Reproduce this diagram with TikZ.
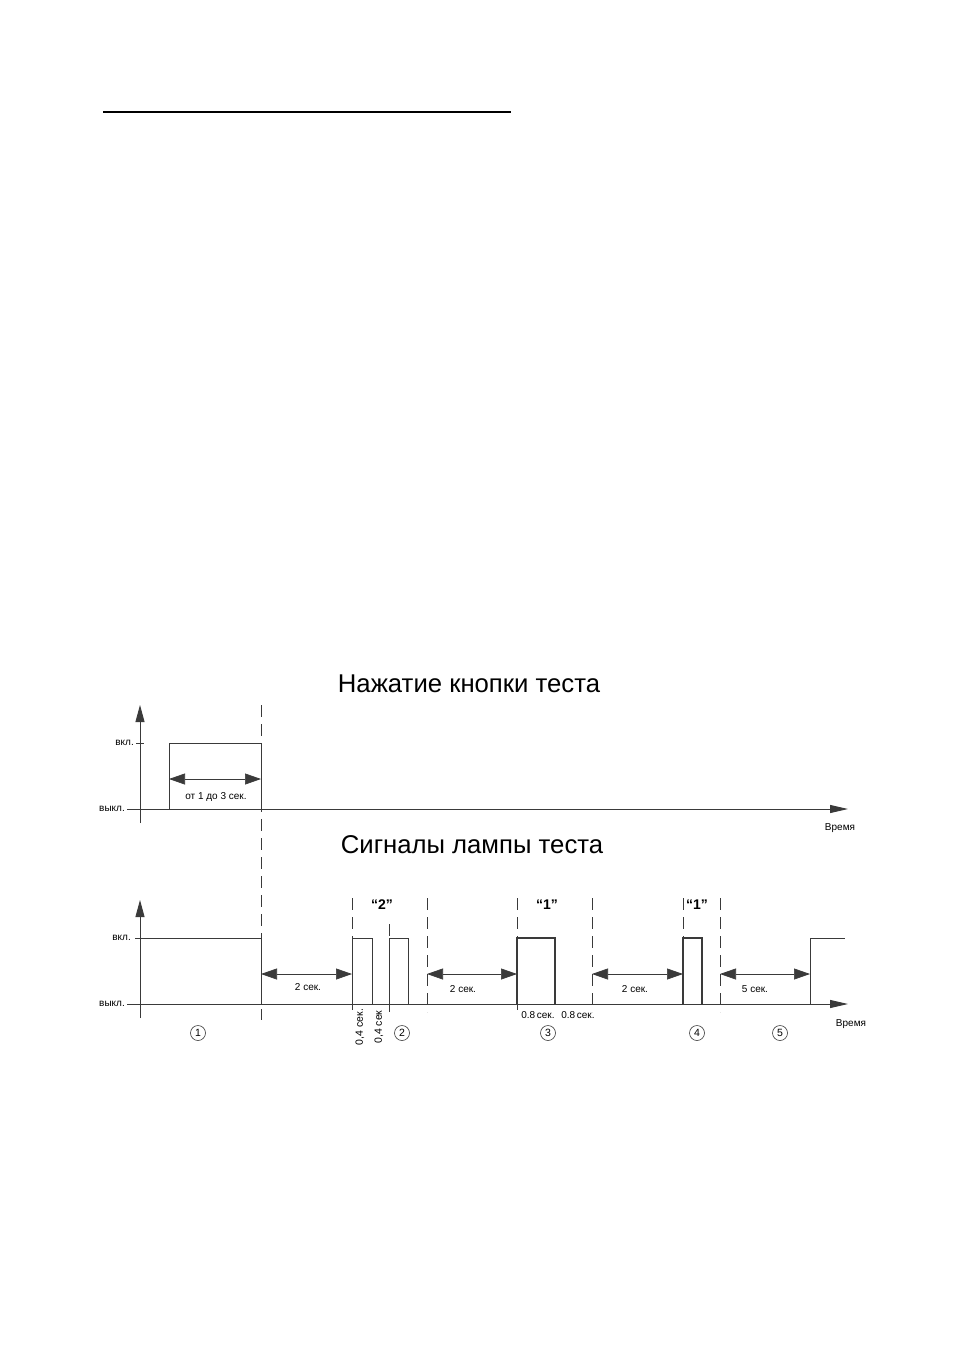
\documentclass[tikz,border=0pt]{standalone}
\usepackage{fontspec}
\setmainfont{Liberation Sans}
\usetikzlibrary{arrows.meta}
\definecolor{ln}{HTML}{3A3A3A}
\tikzset{
  sig/.style={draw=ln, line width=0.9pt},
  sigb/.style={draw=ln, line width=1.4pt},
  axisy/.style={draw=ln, line width=0.9pt, -{Triangle[length=17pt,width=9pt]}},
  axisx/.style={draw=ln, line width=0.9pt, -{Triangle[length=18pt,width=8pt]}},
  dim/.style={draw=ln, line width=0.7pt, {Triangle[length=16pt,width=11pt]}-{Triangle[length=16pt,width=11pt]}},
  vdash/.style={draw=ln, line width=0.8pt, dash pattern=on 12pt off 7pt},
  lbl/.style={font=\fontsize{10}{11}\selectfont, inner sep=0pt},
  rlbl/.style={font=\fontsize{10.5}{11}\selectfont, inner sep=0pt, rotate=90},
  ttl/.style={font=\fontsize{25.7}{30}\selectfont, inner sep=0pt},
  quot/.style={font=\bfseries\fontsize{14}{15}\selectfont, inner sep=0pt},
  circnum/.style={circle, draw=ln, line width=0.6pt, minimum size=15pt, inner sep=0pt, font=\fontsize{10.5}{11}\selectfont}
}
\begin{document}
\begin{tikzpicture}[x=1pt,y=-1pt]
\useasboundingbox (0,0) rectangle (954,1350);
\fill[white] (0,0) rectangle (954,1350);
% top rule
\draw[line width=2pt] (103,112) -- (511,112);

% titles
\node[ttl] (t1) at (469,684) {Нажатие кнопки теста};
\node[ttl] (t2) at (472,845) {Сигналы лампы теста};

% ---------- upper plot ----------
\coordinate (uy0) at (140,823);
\coordinate (uy1) at (140,705);
\draw[axisy] (uy0) -- (uy1);
\coordinate (ux0) at (127,809);
\coordinate (ux1) at (848,809);
\draw[axisx] (ux0) -- (ux1);
\draw[sig] (136,743) -- (144,743);
\node[lbl, anchor=east] (uon) at (134,743) {вкл.};
\node[lbl, anchor=east] (uoff) at (125,809) {выкл.};
\node[lbl] (utime) at (840,828) {Время};
\draw[sig] (169,809) -- (169,743) -- (261,743) -- (261,809);
\coordinate (ua) at (169,779);
\coordinate (ub) at (261,779);
\draw[dim] (ua) -- (ub);
\node[lbl] (ulab) at (216,797) {от 1 до 3 сек.};

% long dashed separator
\draw[vdash] (261,705) -- (261,1020);

% ---------- lower plot ----------
\coordinate (ly0) at (140,1018);
\coordinate (ly1) at (140,900);
\draw[axisy] (ly0) -- (ly1);
\coordinate (lx0) at (127,1004);
\coordinate (lx1) at (848,1004);
\draw[axisx] (lx0) -- (lx1);
\node[lbl, anchor=east] (lon) at (131,938) {вкл.};
\node[lbl, anchor=east] (loff) at (125,1004) {выкл.};
\node[lbl] (ltime) at (851,1024) {Время};
\draw[sig] (135,938) -- (261,938) -- (261,1004);

% segment 1 -> 2
\coordinate (a1) at (261,974);
\coordinate (b1) at (352,974);
\draw[dim] (a1) -- (b1);
\node[lbl] (l1) at (308,987) {2 сек.};

% "2" pulses
\draw[sig] (352,1004) -- (352,938) -- (372,938) -- (372,1004);
\draw[sig] (389,1004) -- (389,938) -- (408,938) -- (408,1004);
\draw[vdash] (352,898) -- (352,938);
\draw[vdash] (389,924) -- (389,938);
\draw[sig] (352,1004) -- (352,1010);
\draw[sig] (389,1004) -- (389,1012);
\node[quot] (q2) at (382,905) {“2”};
\node[rlbl] (p1) at (360,1027) {0,4 сек.};
\node[rlbl] (p2) at (379,1027) {0,4 сек};

\draw[vdash] (427,898) -- (427,1012);
\coordinate (a2) at (427,974);
\coordinate (b2) at (517,974);
\draw[dim] (a2) -- (b2);
\node[lbl] (l2) at (463,989) {2 сек.};

% "1" pulse (long)
\draw[sigb] (517,1004) -- (517,938) -- (555,938) -- (555,1004);
\draw[vdash] (517,898) -- (517,938);
\draw[sig] (517,1004) -- (517,1010);
\node[quot] (q3) at (547,905) {“1”};
\node[lbl] (e1) at (538,1015) {0.8\,сек.};
\node[lbl] (e2) at (578,1015) {0.8\,сек.};

\draw[vdash] (592,898) -- (592,1012);
\coordinate (a3) at (592,974);
\coordinate (b3) at (683,974);
\draw[dim] (a3) -- (b3);
\node[lbl] (l3) at (635,989) {2 сек.};

% "1" pulse (short)
\draw[sigb] (683,1004) -- (683,938) -- (702,938) -- (702,1004);
\draw[vdash] (683,898) -- (683,938);
\node[quot] (q4) at (697,905) {“1”};

\draw[vdash] (720,898) -- (720,1012);
\coordinate (a4) at (720,974);
\coordinate (b4) at (810,974);
\draw[dim] (a4) -- (b4);
\node[lbl] (l4) at (755,989) {5 сек.};

\draw[sig] (810,1004) -- (810,938) -- (845,938);

% circled numbers
\node[circnum] (c1) at (198,1033) {1};
\node[circnum] (c2) at (402,1033) {2};
\node[circnum] (c3) at (548,1033) {3};
\node[circnum] (c4) at (697,1033) {4};
\node[circnum] (c5) at (780,1033) {5};
\end{tikzpicture}
\end{document}
